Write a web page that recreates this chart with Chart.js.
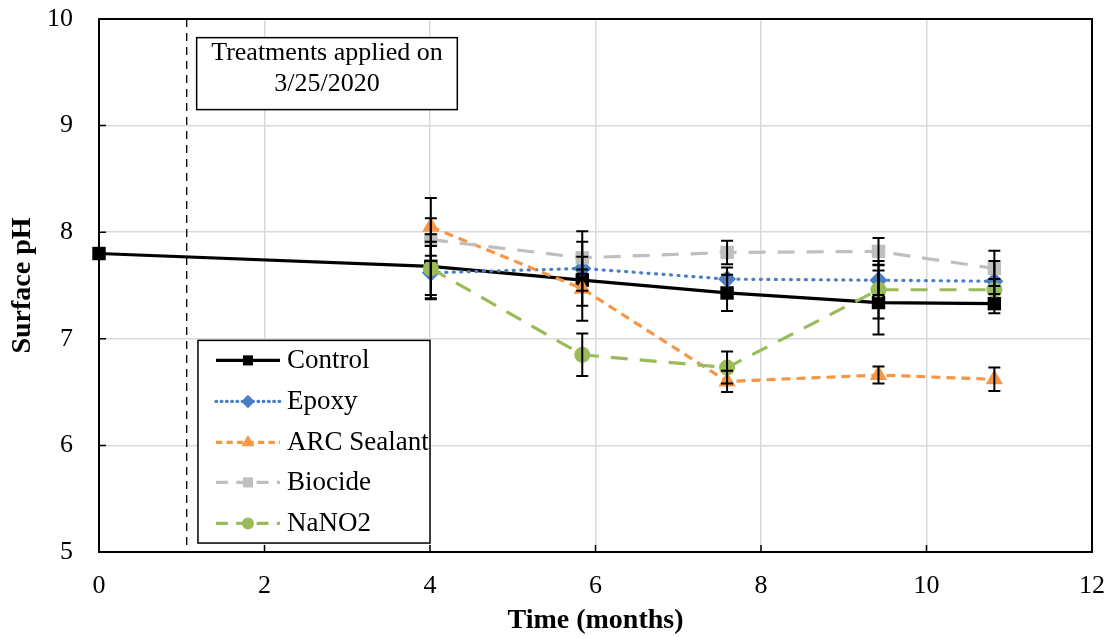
<!DOCTYPE html>
<html>
<head>
<meta charset="utf-8">
<script src="https://cdn.jsdelivr.net/npm/chart.js@4.4.1/dist/chart.umd.min.js"></script>
<style>
html,body{margin:0;padding:0;background:#fff;}
#wrap{width:1116px;height:638px;}
</style>
</head>
<body>
<div id="wrap"><canvas id="c" width="1116" height="638"></canvas></div>
<script>
// ---- data ----
const controlMonths = [0, 4.01, 5.84, 7.59, 9.42, 10.82];
const treatMonths   = [4.01, 5.84, 7.59, 9.42, 10.82];
const controlPH = [7.80, 7.68, 7.55, 7.43, 7.34, 7.33];
const epoxyPH   = [7.62, 7.66, 7.56, 7.55, 7.54];
const arcPH     = [8.05, 7.47, 6.60, 6.66, 6.62];
const biocidePH = [7.93, 7.76, 7.81, 7.82, 7.66];
const nano2PH   = [7.66, 6.85, 6.73, 7.46, 7.46];
const controlErr = [0, 0.30, 0.10, 0.17, 0.30, 0.09];
const epoxyErr   = [0.25, 0.35, 0.11, 0.14, 0.19];
const arcErr     = [0.27, 0.30, 0.10, 0.08, 0.11];
const biocideErr = [0.20, 0.15, 0.11, 0.125, 0.165];
const nano2Err   = [0.25, 0.20, 0.15, 0.27, 0.10];
const seriesNames = ['Control', 'Epoxy', 'ARC Sealant', 'Biocide', 'NaNO2'];
const treatmentMonth = 1.06;
const noteLines = ['Treatments applied on', '3/25/2020'];
const xTicks = [0, 2, 4, 6, 8, 10, 12];
const yTicks = [5, 6, 7, 8, 9, 10];

const pts = (xs, ys, es) => xs.map((x, i) => ({x: x, y: ys[i], e: es[i]}));
const SERIF = '"Liberation Serif", "Times New Roman", serif';

const datasets = [
  {label: seriesNames[0], data: pts(controlMonths, controlPH, controlErr), borderColor: '#000000', backgroundColor: '#000000',
   borderWidth: 3.2, pointStyle: 'rect', pointRadius: 9.5, order: 5},
  {label: seriesNames[1], data: pts(treatMonths, epoxyPH, epoxyErr), borderColor: '#4A7EC3', backgroundColor: '#4A7EC3',
   borderWidth: 3.2, borderDash: [1, 6.5], borderCapStyle: 'round', pointStyle: 'rectRot', pointRadius: 9, order: 4},
  {label: seriesNames[2], data: pts(treatMonths, arcPH, arcErr), borderColor: '#F79646', backgroundColor: '#F79646',
   borderWidth: 3.2, borderDash: [9, 6], pointStyle: 'triangle', pointRadius: 10, order: 3},
  {label: seriesNames[3], data: pts(treatMonths, biocidePH, biocideErr), borderColor: '#BFBFBF', backgroundColor: '#BFBFBF',
   borderWidth: 3.2, borderDash: [17, 12], pointStyle: 'rect', pointRadius: 9.5, order: 2},
  {label: seriesNames[4], data: pts(treatMonths, nano2PH, nano2Err), borderColor: '#9BBB59', backgroundColor: '#9BBB59',
   borderWidth: 3.2, borderDash: [17, 12], pointStyle: 'circle', pointRadius: 8, order: 1}
];
datasets.forEach(d => { d.showLine = true; d.tension = 0; d.pointBorderWidth = 0; d.pointHoverRadius = d.pointRadius; d.clip = false; });

const decorPlugin = {
  id: 'decor',
  beforeDatasetsDraw(chart) {
    const {ctx, chartArea: a, scales: {x}} = chart;
    ctx.save();
    const tx = x.getPixelForValue(treatmentMonth);
    ctx.strokeStyle = '#000'; ctx.lineWidth = 1.3; ctx.setLineDash([8, 6]);
    ctx.beginPath(); ctx.moveTo(tx, a.top); ctx.lineTo(tx, a.bottom); ctx.stroke();
    ctx.restore();
    // plot border under the marks
    ctx.save();
    ctx.strokeStyle = '#000'; ctx.lineWidth = 2;
    ctx.strokeRect(a.left, a.top, a.right - a.left, a.bottom - a.top);
    ctx.restore();
  },
  afterDatasetsDraw(chart) {
    const {ctx, chartArea: a, scales: {x, y}} = chart;
    ctx.save();
    // error bars
    ctx.strokeStyle = '#000'; ctx.lineWidth = 2;
    chart.data.datasets.forEach(ds => {
      ds.data.forEach(p => {
        if (!p.e) return;
        const px = x.getPixelForValue(p.x);
        const top = y.getPixelForValue(p.y + p.e), bot = y.getPixelForValue(p.y - p.e);
        ctx.beginPath();
        ctx.moveTo(px, top); ctx.lineTo(px, bot);
        ctx.moveTo(px - 6, top); ctx.lineTo(px + 6, top);
        ctx.moveTo(px - 6, bot); ctx.lineTo(px + 6, bot);
        ctx.stroke();
      });
    });
    // inner ticks
    ctx.lineWidth = 1.5;
    ctx.beginPath();
    yTicks.forEach(v => { const py = y.getPixelForValue(v); ctx.moveTo(a.left, py); ctx.lineTo(a.left + 7, py); });
    xTicks.forEach(v => { const px = x.getPixelForValue(v); ctx.moveTo(px, a.bottom); ctx.lineTo(px, a.bottom - 7); });
    ctx.stroke();

    // note box
    const bx1 = x.getPixelForValue(1.18), bx2 = x.getPixelForValue(4.33);
    const by1 = y.getPixelForValue(9.825), by2 = y.getPixelForValue(9.15);
    ctx.fillStyle = '#fff';
    ctx.fillRect(bx1, by1, bx2 - bx1, by2 - by1);
    ctx.lineWidth = 1.5; ctx.strokeStyle = '#000';
    ctx.strokeRect(bx1, by1, bx2 - bx1, by2 - by1);
    ctx.fillStyle = '#000'; ctx.font = '26px ' + SERIF; ctx.textAlign = 'center'; ctx.textBaseline = 'middle';
    const cx = (bx1 + bx2) / 2;
    ctx.fillText(noteLines[0], cx, by1 + 16);
    ctx.fillText(noteLines[1], cx, by1 + 47);

    // legend box
    const lx1 = x.getPixelForValue(1.196), lx2 = x.getPixelForValue(4.0);
    const ly1 = y.getPixelForValue(6.985), ly2 = y.getPixelForValue(5.084);
    ctx.fillStyle = '#fff';
    ctx.fillRect(lx1, ly1, lx2 - lx1, ly2 - ly1);
    ctx.lineWidth = 1.5;
    ctx.strokeRect(lx1, ly1, lx2 - lx1, ly2 - ly1);
    const rowY = [360, 401, 442, 482, 523];
    chart.data.datasets.forEach((ds, i) => {
      const ry = ly1 + (rowY[i] - 340);
      const sx1 = lx1 + 18, sx2 = lx1 + 82, mx = (sx1 + sx2) / 2;
      ctx.strokeStyle = ds.borderColor; ctx.lineWidth = ds.borderWidth;
      ctx.lineCap = ds.borderCapStyle || 'butt';
      ctx.setLineDash(ds.borderDash ? ds.borderDash.map(v => v * 0.7) : []);
      ctx.beginPath(); ctx.moveTo(sx1, ry); ctx.lineTo(sx2, ry); ctx.stroke();
      ctx.setLineDash([]); ctx.lineCap = 'butt';
      ctx.fillStyle = ds.backgroundColor;
      Chart.helpers.drawPoint(ctx, {pointStyle: ds.pointStyle, radius: ds.pointRadius * 0.75, borderWidth: 0, rotation: 0}, mx, ry);
      ctx.fillStyle = '#000'; ctx.font = '27px ' + SERIF; ctx.textAlign = 'left'; ctx.textBaseline = 'middle';
      ctx.fillText(ds.label, lx1 + 89, ry + 1);
    });
    ctx.restore();
  }
};

new Chart(document.getElementById('c'), {
  type: 'scatter',
  data: {datasets: datasets},
  options: {
    responsive: false,
    animation: false,
    layout: {padding: {top: 19, right: 24, left: 0, bottom: 0}},
    plugins: {legend: {display: false}, tooltip: {enabled: false}},
    scales: {
      x: {
        type: 'linear', min: 0, max: 12,
        afterBuildTicks: s => { s.ticks = xTicks.map(v => ({value: v})); },
        afterFit: s => { s.height = 86; s.paddingLeft = 0; s.paddingRight = 0; },
        grid: {color: '#D9D9D9', lineWidth: 1.5, drawTicks: false},
        border: {display: false},
        ticks: {color: '#000', font: {family: SERIF, size: 26}, padding: 19, maxRotation: 0},
        title: {display: true, text: 'Time (months)', color: '#000', font: {family: SERIF, size: 28, weight: 'bold'}, padding: {top: 0, bottom: 0}}
      },
      y: {
        type: 'linear', min: 5, max: 10,
        afterBuildTicks: s => { s.ticks = yTicks.map(v => ({value: v})); },
        afterFit: s => { s.width = 99; s.paddingTop = 0; s.paddingBottom = 0; },
        grid: {color: '#D9D9D9', lineWidth: 1.5, drawTicks: false},
        border: {display: false},
        ticks: {color: '#000', font: {family: SERIF, size: 26}, padding: 26},
        title: {display: true, text: 'Surface pH', color: '#000', font: {family: SERIF, size: 28, weight: 'bold'}, padding: {top: 6, bottom: 0}}
      }
    }
  },
  plugins: [decorPlugin]
});
</script>
</body>
</html>
